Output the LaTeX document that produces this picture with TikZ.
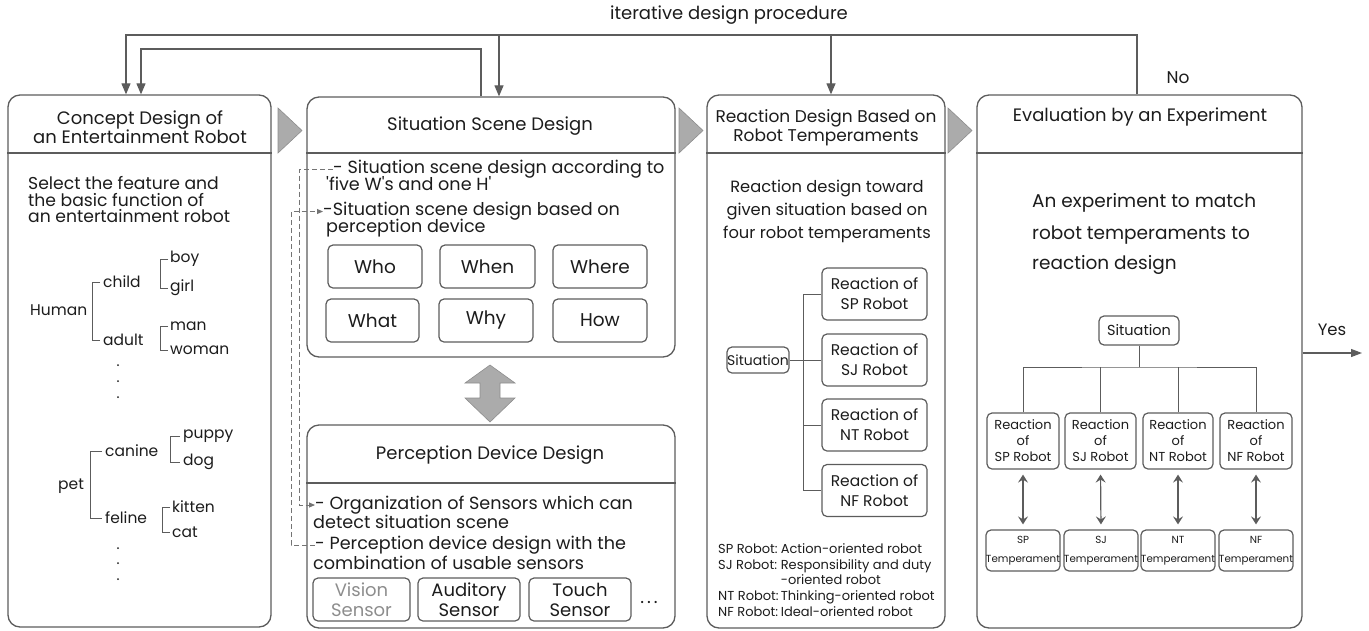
\documentclass[tikz,border=0pt]{standalone}
\usepackage{fontspec}
\setmainfont{Poppins}
\usetikzlibrary{arrows.meta,calc}
\definecolor{lg}{HTML}{5C5C5C}
\definecolor{tx}{HTML}{1C1C1C}
\definecolor{trif}{HTML}{ABABAB}
\newcommand\myfs[2]{\fontsize{#1}{#2}\selectfont}
\tikzset{
  panel/.style={draw=lg, line width=1.3pt, rounded corners=12pt, inner sep=0pt},
  conn/.style={draw=lg, line width=1.2pt},
  arr/.style={conn, -{Triangle[length=11pt,width=9pt]}},
  dconn/.style={draw=lg!85, line width=0.9pt, dash pattern=on 5pt off 3pt, -{Triangle[length=6pt,width=5pt]}},
  dbl/.style={conn, {Stealth[length=8pt,width=10pt,inset=3pt]}-{Stealth[length=8pt,width=10pt,inset=3pt]}},
  sbox/.style={draw=lg, line width=1.2pt, rounded corners=5pt, inner sep=0pt, text=tx, align=center},
  txt/.style={text=tx, inner sep=0pt, font=\myfs{18}{19}},
  ltxt/.style={text=tx, inner sep=0pt, font=\myfs{17.6}{19}, anchor=west},
  tree/.style={text=tx, inner sep=0pt, font=\myfs{15.5}{16}, anchor=west},
  tribox/.style={fill=trif, draw=lg!70, line width=0.6pt},
  dot/.style={fill=tx, draw=none},
}
\begin{document}
\begin{tikzpicture}[x=1pt,y=-1pt]
\useasboundingbox (0,0) rectangle (1369,630);

% ---------------- panels
\node[panel, minimum width=263pt, minimum height=532pt] (concept) at (139.5,361) {};
\node[panel, minimum width=368pt, minimum height=260pt] (sit) at (491,227) {};
\node[panel, minimum width=368pt, minimum height=203pt] (perc) at (491,526.5) {};
\node[panel, minimum width=238pt, minimum height=533pt] (react) at (826,361.5) {};
\node[panel, minimum width=325pt, minimum height=533pt] (eval) at (1139.5,361.5) {};

\coordinate (hl) at (0,153);
\coordinate (hp) at (0,483);
\draw[conn] (concept.west |- hl) -- (concept.east |- hl);
\draw[conn] (sit.west |- hl) -- (sit.east |- hl);
\draw[conn] (react.west |- hl) -- (react.east |- hl);
\draw[conn] (eval.west |- hl) -- (eval.east |- hl);
\draw[conn] (perc.west |- hp) -- (perc.east |- hp);

% ---------------- process triangles
\draw[tribox] (278,108) -- (302,130.5) -- (278,153) -- cycle;
\draw[tribox] (679,108) -- (703,130.5) -- (679,153) -- cycle;
\draw[tribox] (948,108) -- (972,130.5) -- (948,153) -- cycle;

% ---------------- double block arrow
\draw[tribox] (490,365) -- (515,383) -- (500,383) -- (500,398) -- (515,398) -- (490,422)
  -- (465,398) -- (480,398) -- (480,383) -- (465,383) -- cycle;

% ---------------- feedback loop
\node[txt] (iter) at (729,15) {iterative design procedure};
\node[txt, font=\myfs{17}{18}] (no) at (1178,78) {No};
\coordinate (t1) at (0,35);
\coordinate (t2) at (0,49);
\coordinate (xa) at (126,0);
\coordinate (xb) at (141,0);
\coordinate (xc) at (481,0);
\coordinate (xd) at (499,0);
\coordinate (xe) at (831,0);
\coordinate (xf) at (1137,0);
\draw[arr] (eval.north -| xf) -- (t1 -| xf) -- (t1 -| xa) -- (concept.north -| xa);
\draw[arr] (t1 -| xd) -- (sit.north -| xd);
\draw[arr] (t1 -| xe) -- (react.north -| xe);
\draw[arr] (sit.north -| xc) -- (t2 -| xc) -- (t2 -| xb) -- (concept.north -| xb);

% ---------------- concept panel
\node[txt, anchor=center] (ct1) at (140,120) {Concept Design of};
\node[txt, anchor=center] (ct2) at (140,137) {an Entertainment Robot};
\node[txt, anchor=north west, align=left, font=\myfs{17.2}{16.8}] (cb) at (28,176)
  {Select the feature and\\the basic function of\\an entertainment robot};

\node[tree] (human) at (30,310) {Human};
\node[tree] (child) at (103,282) {child};
\node[tree] (adult) at (103,340) {adult};
\node[tree] (boy) at (170,259) {boy};
\node[tree] (girl) at (170,288) {girl};
\node[tree] (man) at (170,326) {man};
\node[tree] (woman) at (170,350) {woman};
\draw[conn, line width=1pt] ([xshift=-3pt]child.west) -| ($(human.east)+(5,0)$) |- ([xshift=-3pt]adult.west);
\draw[conn, line width=1pt] ([xshift=-2pt]boy.west) -- ++(-8,0) |- ([xshift=-2pt]girl.west);
\draw[conn, line width=1pt] ([xshift=-2pt]man.west) -- ++(-8,0) |- ([xshift=-2pt]woman.west);
\foreach \yy in {365,381,397} \fill[dot] (118,\yy) circle (1pt);

\node[tree] (pet) at (58,486) {pet};
\node[tree] (canine) at (105,451) {canine};
\node[tree] (feline) at (105,518) {feline};
\node[tree] (puppy) at (183,436) {puppy};
\node[tree] (dog) at (183,462) {dog};
\node[tree] (kitten) at (172,507) {kitten};
\node[tree] (cat) at (172,532) {cat};
\draw[conn, line width=1pt] ([xshift=-3pt]canine.west) -| ($(pet.east)+(6,0)$) |- ([xshift=-3pt]feline.west);
\draw[conn, line width=1pt] ([xshift=-3pt]puppy.west) -- ++(-10,0) |- ([xshift=-3pt]dog.west);
\draw[conn, line width=1pt] ([xshift=-2pt]kitten.west) -- ++(-8,0) |- ([xshift=-2pt]cat.west);
\foreach \yy in {548,563,579} \fill[dot] (118,\yy) circle (1pt);

% ---------------- situation scene panel
\node[txt] (st) at (490,126) {Situation Scene Design};
\node[ltxt] (l1) at (333,169.5) {- Situation scene design according to};
\node[ltxt] (l2) at (326,184) {\textquotesingle five W\textquotesingle s and one H\textquotesingle};
\node[ltxt] (l3) at (323,211.5) {-Situation scene design based on};
\node[ltxt] (l4) at (326,228.5) {perception device};

\node[sbox, minimum width=94pt, minimum height=43pt, font=\myfs{18.5}{19}] (who) at (375,266.5) {Who};
\node[sbox, minimum width=95pt, minimum height=43pt, font=\myfs{18.5}{19}] (when) at (487.5,266.5) {When};
\node[sbox, minimum width=94pt, minimum height=43pt, font=\myfs{18.5}{19}] (where) at (600,266.5) {Where};
\node[sbox, minimum width=93pt, minimum height=43pt, font=\myfs{18.5}{19}] (what) at (372.5,320.5) {What};
\node[sbox, minimum width=94pt, minimum height=43pt, font=\myfs{18.5}{19}] (why) at (486,320.5) {Why};
\node[sbox, minimum width=94pt, minimum height=43pt, font=\myfs{18.5}{19}] (how) at (600,320.5) {How};

% ---------------- perception panel
\node[txt] (pt) at (490,455) {Perception Device Design};
\node[ltxt] (p1) at (315,505) {- Organization of Sensors which can};
\node[ltxt] (p2) at (313,522) {detect situation scene};
\node[ltxt] (p3) at (315,545) {- Perception device design with the};
\node[ltxt] (p4) at (313,563) {combination of usable sensors};

\node[sbox, minimum width=97pt, minimum height=43pt, font=\myfs{18}{20}, text=lg!70] (vis) at (361.5,599.5) {Vision\\Sensor};
\node[sbox, minimum width=102pt, minimum height=43pt, font=\myfs{18}{20}] (aud) at (469,599.5) {Auditory\\Sensor};
\node[sbox, minimum width=102pt, minimum height=43pt, font=\myfs{18}{20}] (tou) at (580,599.5) {Touch\\Sensor};
\node[txt, anchor=base] (dots) at (649,603) {.\,.\,.};

\coordinate (dA) at (299,0);
\coordinate (dB) at (291,0);
\draw[dconn] (l1.west) -- (l1.west -| dA) -- (p1.west -| dA) -- (p1.west);
\draw[dconn] (p3.west) -- (p3.west -| dB) -- (l3.west -| dB) -- (l3.west);

% ---------------- reaction panel
\node[txt, font=\myfs{17}{18}] (rt1) at (826,118) {Reaction Design Based on};
\node[txt, font=\myfs{17}{18}] (rt2) at (826,137) {Robot Temperaments};
\node[txt, font=\myfs{16.3}{17}] (rb1) at (827,188) {Reaction design toward};
\node[txt, font=\myfs{16.3}{17}] (rb2) at (827,211) {given situation based on};
\node[txt, font=\myfs{16.3}{17}] (rb3) at (827,234) {four robot temperaments};

\node[sbox, minimum width=62pt, minimum height=26pt, font=\myfs{14}{16}] (rsit) at (758,360) {Situation};
\node[sbox, minimum width=105pt, minimum height=52pt, font=\myfs{15.5}{20}] (rr1) at (874.5,294) {Reaction of\\SP Robot};
\node[sbox, minimum width=105pt, minimum height=52pt, font=\myfs{15.5}{20}] (rr2) at (874.5,360) {Reaction of\\SJ Robot};
\node[sbox, minimum width=105pt, minimum height=52pt, font=\myfs{15.5}{20}] (rr3) at (874.5,425) {Reaction of\\NT Robot};
\node[sbox, minimum width=105pt, minimum height=52pt, font=\myfs{15.5}{20}] (rr4) at (874.5,490.5) {Reaction of\\NF Robot};
\coordinate (rbus) at (803,0);
\draw[conn, line width=1pt] (rsit.east) -- (rsit.east -| rbus);
\draw[conn, line width=1pt] (rr1.west) -| (rr4.west -| rbus) -- (rr4.west);
\draw[conn, line width=1pt] (rr2.west) -- (rr2.west -| rbus);
\draw[conn, line width=1pt] (rr3.west) -- (rr3.west -| rbus);

\node[text=tx, inner sep=0pt, font=\myfs{13}{15.8}, anchor=north west] (legend) at (718,542)
 {\begin{tabular}{@{}l@{\,}l@{}}
  SP Robot: & Action-oriented robot\\
  SJ Robot: & Responsibility and duty\\
            & -oriented robot\\
  NT Robot: & Thinking-oriented robot\\
  NF Robot: & Ideal-oriented robot
  \end{tabular}};

% ---------------- evaluation panel
\node[txt] (et) at (1140,117) {Evaluation by an Experiment};
\node[txt, anchor=west, font=\myfs{18.5}{19}] (eb1) at (1032,203) {An experiment to match};
\node[txt, anchor=west, font=\myfs{18.5}{19}] (eb2) at (1032,235) {robot temperaments to};
\node[txt, anchor=west, font=\myfs{18.5}{19}] (eb3) at (1032,265) {reaction design};

\node[sbox, minimum width=80pt, minimum height=29pt, font=\myfs{14.5}{16}] (esit) at (1139,330.5) {Situation};
\node[sbox, minimum width=72pt, minimum height=56pt, font=\myfs{13}{16}] (er1) at (1023,441) {Reaction\\of\\SP Robot};
\node[sbox, minimum width=71pt, minimum height=56pt, font=\myfs{13}{16}] (er2) at (1100.5,441) {Reaction\\of\\SJ Robot};
\node[sbox, minimum width=70pt, minimum height=56pt, font=\myfs{13}{16}] (er3) at (1178,441) {Reaction\\of\\NT Robot};
\node[sbox, minimum width=72pt, minimum height=56pt, font=\myfs{13}{16}] (er4) at (1256,441) {Reaction\\of\\NF Robot};
\coordinate (ebus) at (1139,367);
\draw[conn, line width=1pt] (esit.south) -- (ebus);
\draw[conn, line width=1pt] (er1.north) |- (ebus) -| (er4.north);
\draw[conn, line width=1pt] (er2.north) -- (er2.north |- ebus);
\draw[conn, line width=1pt] (er3.north) -- (er3.north |- ebus);

\node[sbox, minimum width=74pt, minimum height=41pt, font=\myfs{10.3}{19}] (te1) at (1023,550.5) {SP\\Temperament};
\node[sbox, minimum width=74pt, minimum height=41pt, font=\myfs{10.3}{19}] (te2) at (1101,550.5) {SJ\\Temperament};
\node[sbox, minimum width=74pt, minimum height=41pt, font=\myfs{10.3}{19}] (te3) at (1178,550.5) {NT\\Temperament};
\node[sbox, minimum width=74pt, minimum height=41pt, font=\myfs{10.3}{19}] (te4) at (1256,550.5) {NF\\Temperament};
\foreach \i in {1,2,3,4}
  \draw[dbl, shorten <=5pt, shorten >=5pt] (er\i.south) -- (te\i.north);

\node[txt, font=\myfs{16.5}{18}] (yes) at (1332,330) {Yes};
\coordinate (yy) at (1362,353);
\draw[conn, -{Triangle[length=11pt,width=8pt]}] (yy -| eval.east) -- (yy);
\end{tikzpicture}
\end{document}
